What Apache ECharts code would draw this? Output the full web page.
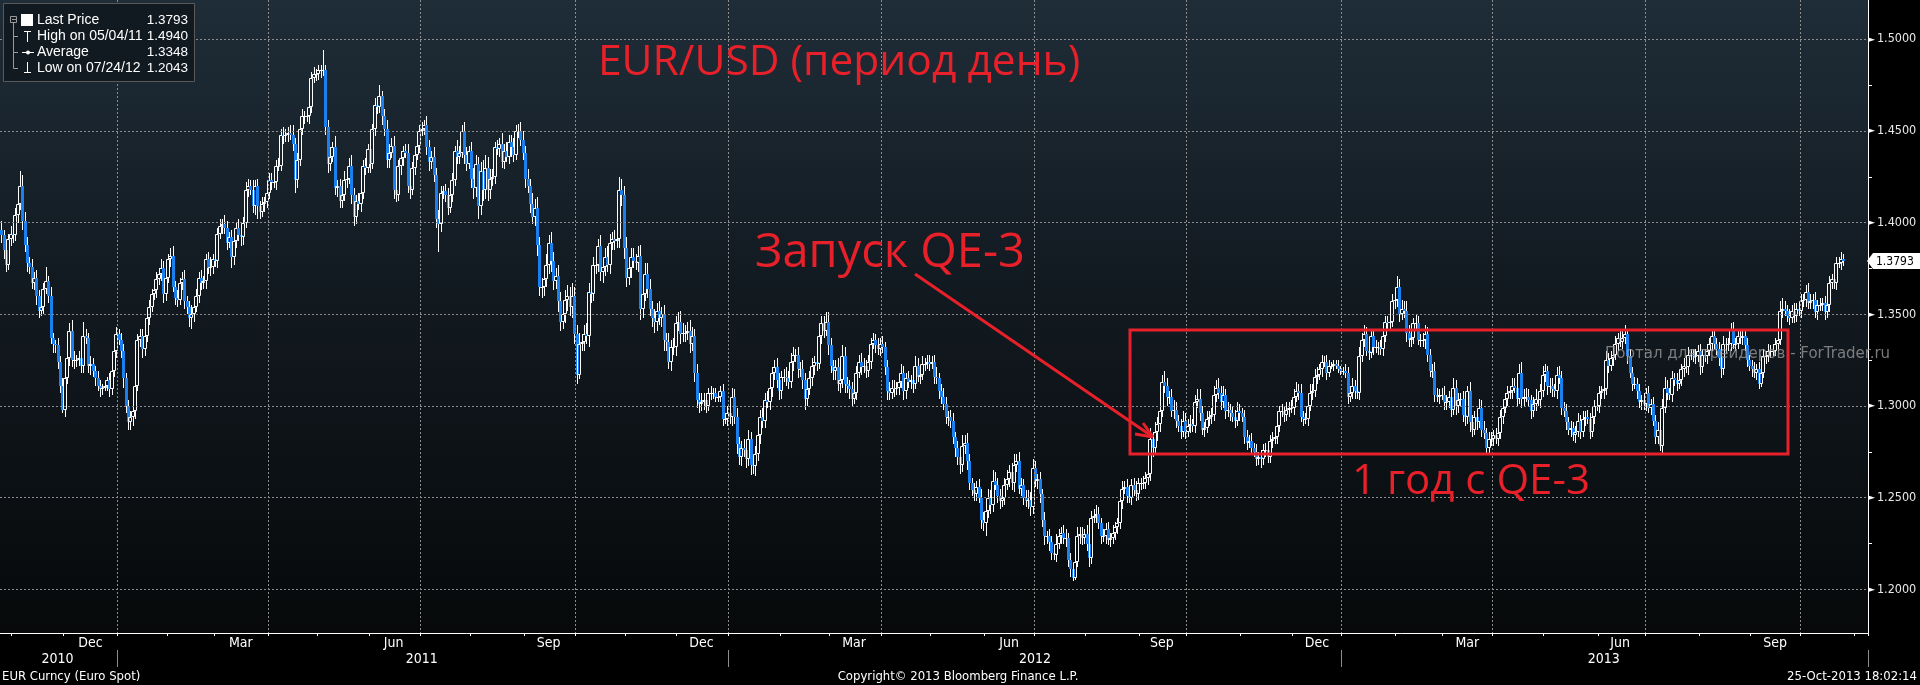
<!DOCTYPE html>
<html><head><meta charset="utf-8">
<script src="https://cdn.jsdelivr.net/npm/echarts@6/dist/echarts.min.js"></script>
<style>html,body{margin:0;padding:0;background:#000;}#c{width:1920px;height:685px;}</style>
</head><body><div id="c"></div>
<script>
// ---- data (EUR/USD daily, values in thousandths above 1.000) ----
const startDate = [2010, 9, 25];   // Mon 25-Oct-2010
const firstOpen = 396;
const closes = [
393,385,377,391,394,393,404,410,420,401,388,378,376,367,370,360,352,354,364,368,
360,337,334,333,324,311,298,315,326,341,325,325,325,326,322,338,337,322,323,319,
315,311,309,310,311,314,309,319,330,339,336,330,315,300,291,294,297,311,336,338,
331,338,348,354,361,363,369,372,375,361,370,380,382,365,359,358,367,369,357,354,
348,350,354,360,370,367,368,380,375,376,380,379,394,398,399,397,389,392,381,390,
397,393,392,400,418,420,418,409,420,409,406,410,411,416,423,422,422,431,431,448,
447,448,449,448,443,423,434,451,458,458,458,463,479,481,481,483,483,483,452,432,
436,441,419,420,412,415,423,424,431,415,403,412,410,416,431,430,440,432,451,464,
463,469,458,451,434,438,442,418,415,431,435,439,438,420,418,430,437,442,450,451,
453,441,433,436,426,402,399,416,417,415,408,415,423,439,436,438,450,437,432,439,
424,419,432,409,428,418,430,418,424,425,441,440,443,433,439,436,444,441,437,450,
450,445,438,424,420,410,403,408,388,365,365,369,377,389,379,368,371,357,346,350,
358,360,354,360,339,317,334,335,339,338,362,361,377,377,387,373,376,381,377,389,
391,390,391,418,415,386,370,375,381,379,378,382,353,361,372,364,353,348,346,352,
348,350,336,335,324,332,332,345,346,339,340,340,341,334,338,318,303,301,302,303,
300,307,307,307,305,305,308,293,293,296,294,305,294,279,272,277,276,271,282,268,
267,274,284,294,292,303,302,310,318,321,314,308,316,316,315,313,324,328,328,320,
320,314,304,309,315,322,324,323,338,345,341,346,333,322,319,321,312,314,327,312,
311,309,304,307,318,324,321,322,319,324,334,336,333,331,334,332,321,308,307,310,
309,310,313,318,308,315,313,314,312,322,316,317,323,323,324,323,324,316,315,308,
305,301,294,294,292,283,277,272,268,278,280,270,258,254,252,256,250,238,236,243,
250,246,259,257,251,248,250,257,260,264,258,268,270,255,257,250,248,249,245,266,
259,260,252,238,229,229,226,220,219,225,229,231,228,228,216,211,206,215,229,230,
228,230,225,217,239,240,241,236,229,229,233,227,228,231,234,236,248,255,256,251,
250,257,254,252,258,258,258,261,263,282,277,286,290,297,313,311,305,305,297,298,
292,289,286,292,286,289,290,289,302,304,296,287,288,293,294,295,306,310,307,302,
306,297,298,296,294,292,297,296,294,283,280,281,277,275,271,272,271,276,276,272,
281,282,283,289,297,297,295,298,299,299,305,308,307,294,293,293,300,307,308,316,
317,320,324,324,318,322,322,323,322,320,319,319,318,305,307,311,308,307,327,336,
339,330,329,338,332,332,332,331,338,346,345,346,357,358,365,350,353,352,340,336,
337,345,345,336,336,336,339,328,319,319,306,305,306,306,302,302,305,298,310,300,
303,304,295,294,308,291,287,294,291,299,287,285,277,282,282,284,282,285,294,299,
304,307,308,311,310,304,318,304,305,305,303,297,301,304,303,308,317,319,311,311,
309,308,317,315,299,297,291,287,288,284,286,292,286,293,294,293,286,294,300,300,
307,308,309,325,322,326,328,334,337,335,337,339,327,318,312,312,308,302,303,301,
307,299,301,292,283,287,278,299,310,307,306,315,314,312,314,320,322,321,328,328,
327,327,330,321,328,327,330,334,338,334,331,326,320,334,333,334,342,334,334,338,
337,338,333,325,322,320,318,320,312,318,327,327,330,330,330,334,336,352,353,352,
349,348,352,349,353,352,357,358,362,356,357,358,351,355,355,356,351,355,367,369,
367,378,378,380,379.3
];
const wickHi = [
5,3,4,3,4,3,4,3,8,6,5,4,3,4,3,4,3,4,3,8,
3,5,3,2,4,3,4,3,4,4,6,5,3,4,3,8,4,3,4,3,
3,4,3,2,2,2,4,3,3,4,3,4,4,3,3,3,5,4,3,4,
4,5,3,4,3,3,4,3,5,4,4,3,4,5,3,4,3,4,5,3,
3,5,3,4,3,4,3,3,4,5,3,4,3,4,3,5,4,3,4,4,
3,5,4,3,4,4,3,5,3,4,3,4,3,3,4,4,3,3,4,3,
4,3,3,4,5,3,4,3,4,3,3,4,3,4,3,3,3,11,3,4,
5,3,6,3,4,4,5,3,4,6,4,3,4,4,3,4,3,5,3,4,
4,6,3,4,5,5,4,5,4,3,4,3,4,5,4,3,4,3,3,4,
3,5,4,3,5,4,5,4,3,4,4,3,4,3,6,4,3,5,4,3,
5,6,5,4,5,6,7,6,5,4,3,4,3,6,4,5,4,4,5,3,
4,5,5,4,5,4,6,5,6,4,5,5,6,4,6,5,4,6,5,4,
5,6,5,7,5,5,6,4,5,6,5,6,4,5,4,6,4,5,6,5,
4,5,5,7,6,5,6,4,5,5,4,5,6,5,6,6,5,4,5,4,
5,4,5,4,5,4,5,4,5,6,5,4,5,6,5,4,5,4,5,4,
4,3,4,3,3,2,3,4,3,4,4,5,4,5,4,4,5,4,5,4,
3,4,5,4,5,4,5,4,3,4,5,4,3,4,5,4,5,4,3,4,
4,5,4,5,4,4,3,4,5,4,4,5,5,4,3,4,5,4,6,5,
4,3,4,5,4,4,5,4,3,4,3,4,3,4,3,4,3,4,5,4,
4,3,4,5,4,3,4,3,4,5,4,3,4,3,4,4,3,4,5,3,
4,5,4,3,4,4,3,4,5,6,4,5,4,3,4,3,4,5,4,5,
5,4,6,5,4,4,3,4,5,4,5,6,4,5,4,3,4,5,4,5,
4,3,4,3,4,3,4,3,4,5,4,3,4,5,3,4,3,4,5,4,
4,3,5,6,4,4,5,4,3,4,3,4,3,4,3,3,4,4,3,4,
4,3,4,5,3,3,4,3,4,6,4,5,4,6,4,6,4,3,4,5,
4,3,4,5,4,4,5,3,4,5,5,4,3,4,3,4,5,4,5,4,
5,3,4,3,4,4,5,4,3,4,4,3,4,3,4,3,4,3,4,3,
3,4,3,4,3,4,3,4,3,4,4,5,4,5,3,3,4,5,4,4,
4,3,4,3,4,3,2,2,2,3,2,2,4,3,4,4,3,4,5,4,
5,4,3,4,4,4,3,4,5,3,3,4,4,4,6,4,5,4,5,4,
4,3,5,4,3,4,5,4,3,4,5,4,3,4,5,4,3,4,5,4,
4,3,4,5,3,5,4,3,4,5,4,5,3,4,4,3,4,3,4,3,
3,4,3,4,4,4,5,6,4,5,4,3,4,5,3,4,5,4,3,4,
4,3,4,5,4,3,4,3,4,3,3,4,3,4,3,4,3,4,3,4,
4,3,4,5,4,4,3,4,3,4,4,5,3,4,3,4,3,4,3,4,
3,4,3,4,3,4,3,5,6,4,3,4,3,4,3,3,4,3,4,3,
3,4,3,4,3,3,4,3,4,3,3,4,3,4,3,3,3,4,3,4,
3,4,3,4,3,3,4,3,4,3,4,3,4,3,4,3,4,5,6,4,
3,4,3,4,3,3,4,3,4,5,4,3,4,3,4,3,4,3,4,3,
4,3,3,4,3
];
const wickLo = [
4,5,4,3,4,4,3,4,3,5,4,5,4,3,4,5,4,3,4,3,
4,3,5,4,4,4,2,4,3,4,4,5,4,3,4,4,3,4,5,3,
4,3,4,3,2,3,4,3,3,4,3,4,5,4,4,4,5,4,3,4,
5,4,3,4,3,3,4,3,4,5,4,3,4,3,4,4,3,4,4,4,
5,6,4,3,4,4,3,4,3,4,4,3,4,3,4,3,4,3,6,4,
4,3,5,4,3,4,3,4,5,7,4,3,4,3,3,4,3,4,3,3,
4,3,4,3,4,7,4,3,3,4,3,4,3,3,4,3,4,3,4,5,
4,3,4,5,4,4,3,4,3,5,5,4,3,4,3,4,3,5,3,4,
4,3,5,4,4,4,3,5,4,3,5,4,3,4,5,3,4,3,4,3,
3,4,5,4,4,5,15,4,3,4,4,3,4,3,4,4,3,5,4,3,
5,6,5,7,5,6,5,6,5,4,4,3,4,3,4,3,4,5,4,3,
4,3,4,5,4,5,4,5,6,5,6,5,4,5,6,5,4,6,5,4,
5,6,5,6,5,5,2.5,4,5,4,6,5,4,5,4,5,6,5,4,5,
4,5,4,5,6,6,5,4,5,4,4,5,6,5,4,5,4,5,6,5,
4,5,6,5,4,5,4,5,4,5,4,5,4,5,4,5,4,5,4,4,
4,3,4,3,3,3,3,4,3,4,4,5,4,5,4,5,4,5,4,5.6,
4,5,4,5,4,4,3,4,5,4,4,5,4,3,4,4,3,5,4,5,
4,5,6,4,3,4,5,4,3,4,4,3,5,4,5,5,4,5,4,5,
4,5,4,3,4,3,4,3,4,3,4,3,4,3,4,3,4,5,4,3,
4,3,4,3,5,4,3,4,5,3,3,4,3,4,3,4,3,4,3,4,
4,3,4,5,4,4,5,4,5,4,4,5,4,3,4,4,3,5,4,7,
4,5,4,3,4,4,3,4,3,4,4,5,4,3,4,4,3,4,5,4,
3,4,5,4,5,4,5,4,3,4,3,4,3,5,4,4,1.7,1,3,4,
4,3,4,5,3,3,4,3,4,3,4,3,4,3,4,4,3,4,3,4,
3,4,3,4,3,4,3,3,4,4,5,4,5,4,3,4,5,4,3,4,
4,3,4,3,4,3,4,3,4,3,4,3,4,3,4,4,3,4,3,4,
3,4,3,4,3,4,3,4,3,4,4,3,4,3,4,3,5,3,4,3,
3,4,3,4,3,3,4,3,4,3,4,3,4,3,4,3,4,3,4,3,
4,3,4,3,4,2,2,3,2,2,2,2,3,4,3,3,4,3,4,3,
4,3,4,3,4,3,4,3,4,3,3,4,3,4,4,4,3,4,5,4,
4,3,4,3,4,4,5,4,3,4,4,3,4,3,4,4,3,4,3,5,
4,3,4,5,4,5,4,3,4,3,4,3,4,3,4,4,3,4,3,4,
3,4,3,4,3,4,3,5,4,3,3,4,3,4,3,4,3,4,5,4,
4,3,4,3,4,3,4,3,4,3,4,3,4,3,4,3,4,3,4,3,
4,3,4,3,4,3,4,3,4,3,4,3,4,3,4,3,4,3,4,3,
4,3,4,3,4,4,2.5,4,3,4,3,4,3,4,3,3,4,3,4,3,
3,4,3,4,3,3,4,3,4,3,3,4,5,3,4,3,4,3,4,3,
3,4,3,4,3,4,3,4,3,1.5,3,4,3,4,3,3,4,3,4,3,
3,4,3,4,3,3,4,3,4,3,3,4,3,4,3,3,4,3,4,3,
3,4,3,4,3
];
const padDays = 10;
const yMajorTicks = [1.20, 1.25, 1.30, 1.35, 1.40, 1.45, 1.50];
const yMinorTicks = [1.225, 1.275, 1.325, 1.375, 1.425, 1.475];
const yRange = [1.1762, 1.5214];
const monthNames = ['Jan','Feb','Mar','Apr','May','Jun','Jul','Aug','Sep','Oct','Nov','Dec'];
const labelledMonths = ['12','03','06','09'];
const quarterMonths = ['01','04','07','10'];
const lastPrice = 1.3793;
const legendLabels = ['Last Price', 'High on 05/04/11', 'Average', 'Low on 07/24/12'];
const legendValues = ['1.3793', '1.4940', '1.3348', '1.2043'];
const titleText = 'EUR/USD (период день)';
const noteLaunch = 'Запуск QE-3';
const noteYear = '1 год с QE-3';
const watermarkText = 'Портал для трейдеров - ForTrader.ru';
const footerLeft = 'EUR Curncy (Euro Spot)';
const footerMid = 'Copyright\u00A9 2013 Bloomberg Finance L.P.';
const footerRight = '25-Oct-2013 18:02:14';

// ---- categories: every weekday ----
const dates = [];
{
  let t = Date.UTC(startDate[0], startDate[1], startDate[2]);
  while (dates.length < closes.length + padDays) {
    const d = new Date(t);
    const wd = d.getUTCDay();
    if (wd !== 0 && wd !== 6) dates.push(d.toISOString().slice(0, 10));
    t += 86400000;
  }
}
const monthSpan = {}, yearSpan = {};
dates.forEach((s, i) => {
  const m = s.slice(0, 7), y = s.slice(0, 4);
  if (!monthSpan[m]) monthSpan[m] = [i, i]; else monthSpan[m][1] = i;
  if (!yearSpan[y]) yearSpan[y] = [i, i]; else yearSpan[y][1] = i;
});
const monthStart = new Set(), quarterStart = new Set(), monthLabel = new Set();
Object.keys(monthSpan).forEach(k => {
  const [a, b] = monthSpan[k];
  if (a > 0) monthStart.add(a);
  if (a > 0 && quarterMonths.includes(k.slice(5, 7))) quarterStart.add(a);
  if (labelledMonths.includes(k.slice(5, 7)) && b - a > 15) monthLabel.add(Math.floor((a + b) / 2));
});
const yearStart = new Set(), yearLabel = new Set();
Object.keys(yearSpan).forEach(k => {
  const [a, b] = yearSpan[k];
  if (a > 0) yearStart.add(a);
  yearLabel.add(Math.floor((a + b) / 2));
});

const candles = closes.map((c, i) => {
  const o = i === 0 ? firstOpen : closes[i - 1];
  const hi = Math.max(o, c) + wickHi[i];
  const lo = Math.min(o, c) - wickLo[i];
  return [i, 1 + o / 1000, 1 + c / 1000, 1 + lo / 1000, 1 + hi / 1000];
});

const BLUE = '#1a80f0';
const RED = '#e8202a';
const FONT_NARROW = '"Liberation Sans Narrow", "DejaVu Sans Condensed", "Liberation Sans", sans-serif';
const FONT_UI = '"DejaVu Sans", sans-serif';
const FONT_TAHOMA = '"Liberation Sans", "DejaVu Sans", sans-serif';
const FONT_COND = '"DejaVu Sans Condensed", "Liberation Sans", sans-serif';
const FONT_NOTE = '"Open Sans", "Noto Sans", sans-serif';

function renderCandle(params, api) {
  const i = api.value(0);
  const o = api.value(1), c = api.value(2), lo = api.value(3), hi = api.value(4);
  const pO = api.coord([i, o]), pC = api.coord([i, c]);
  const pL = api.coord([i, lo]), pH = api.coord([i, hi]);
  const cx = Math.round(pO[0]);
  const yTop = Math.round(Math.min(pO[1], pC[1]));
  let yBot = Math.round(Math.max(pO[1], pC[1]));
  if (yBot - yTop < 1) yBot = yTop + 1;
  const up = c >= o;
  const kids = [
    { type: 'line', shape: { x1: cx + 0.5, y1: Math.round(pH[1]), x2: cx + 0.5, y2: yTop }, style: { stroke: '#ffffff', lineWidth: 1 } },
    { type: 'line', shape: { x1: cx + 0.5, y1: yBot, x2: cx + 0.5, y2: Math.round(pL[1]) }, style: { stroke: '#ffffff', lineWidth: 1 } }
  ];
  if (up) {
    kids.push({ type: 'rect', shape: { x: cx - 1.5, y: yTop + 0.5, width: 3, height: Math.max(0, yBot - yTop - 1) },
      style: { fill: 'rgba(0,0,0,0)', stroke: '#ffffff', lineWidth: 1 } });
  } else {
    kids.push({ type: 'rect', shape: { x: cx - 1, y: yTop, width: 3, height: yBot - yTop }, style: { fill: BLUE } });
  }
  return { type: 'group', children: kids };
}

function txt(x, y, text, font, fill, align, z) {
  return { type: 'text', z: z || 20, silent: true,
    style: { x: x, y: y, text: text, font: font, fill: fill, align: align || 'left', textAlign: align || 'left',
      verticalAlign: 'middle', textVerticalAlign: 'middle' } };
}
function ln(x1, y1, x2, y2, stroke, w, z) {
  return { type: 'line', z: z || 20, silent: true, shape: { x1, y1, x2, y2 }, style: { stroke: stroke, lineWidth: w || 1 } };
}

const chart = echarts.init(document.getElementById('c'), null, { renderer: 'canvas' });

function buildGraphics(tagY) {
  const g = [];
  // watermark (semi-transparent overlay)
  g.push(txt(1605, 354, watermarkText, '15px ' + FONT_UI, 'rgba(150,150,150,0.8)', 'left', 6));
  // legend box
  g.push({ type: 'rect', z: 20, silent: true, shape: { x: 3.5, y: 3.5, width: 191, height: 78 },
    style: { fill: '#111a20', stroke: '#5a5a5a', lineWidth: 1 } });
  g.push({ type: 'rect', z: 21, silent: true, shape: { x: 10.5, y: 16.5, width: 6, height: 6 }, style: { fill: 'none', stroke: '#9a9a9a', lineWidth: 1 } });
  g.push(ln(12, 19.5, 16, 19.5, '#9a9a9a', 1, 21));
  g.push(ln(13.5, 23, 13.5, 68.5, '#9a9a9a', 1, 21));
  [36.5, 52.5, 68.5].forEach(y => g.push(ln(13.5, y, 18, y, '#9a9a9a', 1, 21)));
  g.push({ type: 'rect', z: 21, silent: true, shape: { x: 21, y: 14, width: 12, height: 12 }, style: { fill: '#ffffff' } });
  g.push(ln(27.5, 31, 27.5, 42, '#fff', 1, 21)); g.push(ln(24, 31.5, 31, 31.5, '#fff', 1, 21));
  g.push(ln(22, 52.5, 34, 52.5, '#fff', 1, 21));
  g.push({ type: 'circle', z: 21, silent: true, shape: { cx: 28, cy: 52.5, r: 2 }, style: { fill: '#fff' } });
  g.push(ln(27.5, 62, 27.5, 73, '#fff', 1, 21)); g.push(ln(24, 72.5, 31, 72.5, '#fff', 1, 21));
  const rows = [20.5, 36, 52, 68];
  legendLabels.forEach((t, k) => {
    g.push(txt(37, rows[k], t, '14px ' + FONT_TAHOMA, '#ffffff', 'left', 21));
    g.push(txt(188, rows[k], legendValues[k], '13.5px ' + FONT_TAHOMA, '#ffffff', 'right', 21));
  });
  // red annotations
  g.push(txt(598, 63, titleText, '42.5px ' + FONT_NOTE, RED, 'left', 30));
  g.push(txt(755, 254, noteLaunch, '47px ' + FONT_NOTE, RED, 'left', 30));
  g.push(txt(1352, 482, noteYear, '42px ' + FONT_NOTE, RED, 'left', 30));
  g.push({ type: 'rect', z: 30, silent: true, shape: { x: 1130, y: 330, width: 658, height: 124 },
    style: { fill: 'none', stroke: RED, lineWidth: 3 } });
  g.push(ln(915, 274, 1153, 437, RED, 3, 30));
  g.push(ln(1153, 437, 1135, 434, RED, 3, 30));
  g.push(ln(1153, 437, 1143, 423, RED, 3, 30));
  // footer
  g.push(txt(2, 677, footerLeft, '13px ' + FONT_NARROW, '#ffffff', 'left', 20));
  g.push(txt(958, 677, footerMid, '13px ' + FONT_NARROW, '#ffffff', 'center', 20));
  g.push(txt(1917, 677, footerRight, '13px ' + FONT_COND, '#ffffff', 'right', 20));
  // last price tag
  if (tagY != null) {
    g.push({ type: 'polygon', z: 25, silent: true,
      shape: { points: [[1867, tagY], [1873, tagY - 8], [1920, tagY - 8], [1920, tagY + 8], [1873, tagY + 8]] },
      style: { fill: '#ffffff' } });
    g.push(txt(1876, tagY + 0.5, lastPrice.toFixed(4), '12px ' + FONT_COND, '#000000', 'left', 26));
  }
  return g;
}

const option = {
  backgroundColor: '#000000',
  animation: false,
  grid: {
    left: -1, right: 52, top: 0, bottom: 52, show: true, borderWidth: 0,
    backgroundColor: new echarts.graphic.LinearGradient(0, 0, 0, 1, [
      { offset: 0, color: '#1f2d38' }, { offset: 0.45, color: '#121a21' }, { offset: 1, color: '#07090a' }
    ])
  },
  xAxis: [
    {
      type: 'category', data: dates, boundaryGap: true, position: 'bottom', z: 5,
      axisLine: { show: true, onZero: false, lineStyle: { color: '#ffffff', width: 1 } },
      axisTick: { show: true, interval: (i) => monthStart.has(i), length: 3, lineStyle: { color: '#ffffff' } },
      axisLabel: { show: true, interval: (i) => monthLabel.has(i), margin: 3,
        formatter: (v) => monthNames[parseInt(v.slice(5, 7), 10) - 1],
        color: '#ffffff', fontSize: 14, fontFamily: FONT_NARROW },
      splitLine: { show: true, interval: (i) => quarterStart.has(i), lineStyle: { color: '#8c8c8c', type: [2, 2], width: 1 } }
    },
    {
      type: 'category', data: dates, boundaryGap: true, position: 'bottom', offset: 17, z: 5,
      axisLine: { show: false, onZero: false },
      axisTick: { show: true, interval: (i) => yearStart.has(i), length: 17, lineStyle: { color: '#8c8c8c' } },
      axisLabel: { show: true, interval: (i) => yearLabel.has(i), margin: 2,
        formatter: (v) => v.slice(0, 4), color: '#ffffff', fontSize: 14, fontFamily: FONT_NARROW },
      splitLine: { show: false }
    }
  ],
  yAxis: {
    type: 'value', position: 'right', min: yRange[0], max: yRange[1], z: 5,
    axisLine: { show: true, lineStyle: { color: '#ffffff', width: 1 } },
    axisTick: { show: true, customValues: yMinorTicks, length: 4, lineStyle: { color: '#ffffff' } },
    axisLabel: {
      show: true, customValues: yMajorTicks, margin: 0,
      formatter: (v) => '{t|\u25BA}{v|' + Number(v).toFixed(4) + '}',
      rich: {
        t: { color: '#ffffff', fontSize: 9, fontFamily: FONT_UI },
        v: { color: '#e8e8e8', fontSize: 12.5, fontFamily: FONT_COND, padding: [0, 0, 0, 2] }
      }
    },
    splitLine: { show: false }
  },
  series: [
    {
      type: 'line', data: [], z: 1, silent: true,
      markLine: {
        silent: true, symbol: ['none', 'none'], label: { show: false }, animation: false,
        lineStyle: { color: '#8c8c8c', type: [2, 2], width: 1 },
        data: yMajorTicks.map(v => ({ yAxis: v }))
      }
    },
    {
      type: 'custom', name: 'EUR/USD', z: 3, clip: true,
      renderItem: renderCandle,
      encode: { x: 0, y: [1, 2, 3, 4] },
      data: candles
    }
  ],
  graphic: buildGraphics(null)
};
chart.setOption(option);
const tagY = Math.round(chart.convertToPixel({ yAxisIndex: 0 }, lastPrice));
chart.setOption({ graphic: buildGraphics(tagY) }, { replaceMerge: ['graphic'] });
</script></body></html>
